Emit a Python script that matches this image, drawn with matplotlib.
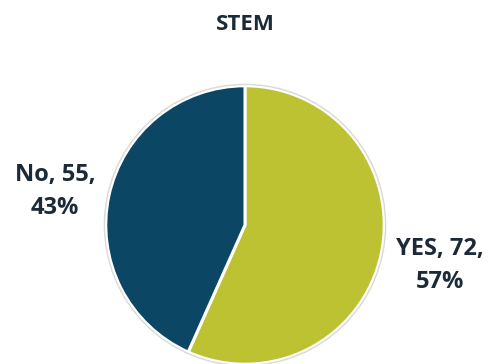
import matplotlib.pyplot as plt

labels = ['YES', 'No']
counts = [72, 55]
percents = ['57%', '43%']
colors = ['#BDC232', '#0B4664']

plt.rcParams['font.family'] = ['Open Sans', 'DejaVu Sans']

W, H = 493, 364
fig = plt.figure(figsize=(W / 100, H / 100), dpi=100)

# pie centre and radius in pixels
cx, cy, r = 245, 364 - 225, 142
ax = fig.add_axes([(cx - r) / W, (cy - r) / H, 2 * r / W, 2 * r / H])
ax.pie(counts, colors=colors, startangle=90, counterclock=False, radius=1,
       wedgeprops=dict(edgecolor='white', linewidth=2.2))
ax.add_patch(plt.Circle((0, 0), 1.01, fill=False, edgecolor='#D9D9D9', linewidth=1))
ax.set_xlim(-1.02, 1.02)
ax.set_ylim(-1.02, 1.02)
ax.set_aspect('equal')
ax.axis('off')

fig.text(245 / W, 1 - 25 / H, 'STEM', ha='center', va='center',
         fontsize=16, fontweight='bold', color='#1C2A38')

txt = dict(ha='center', va='center', fontsize=17, fontweight='bold',
           color='#1C2A38', linespacing=1.5)
fig.text(55 / W, 1 - 191 / H, f'{labels[1]}, {counts[1]},\n{percents[1]}', **txt)
fig.text(440 / W, 1 - 265 / H, f'{labels[0]}, {counts[0]},\n{percents[0]}', **txt)

fig.savefig('out.png', dpi=100)
